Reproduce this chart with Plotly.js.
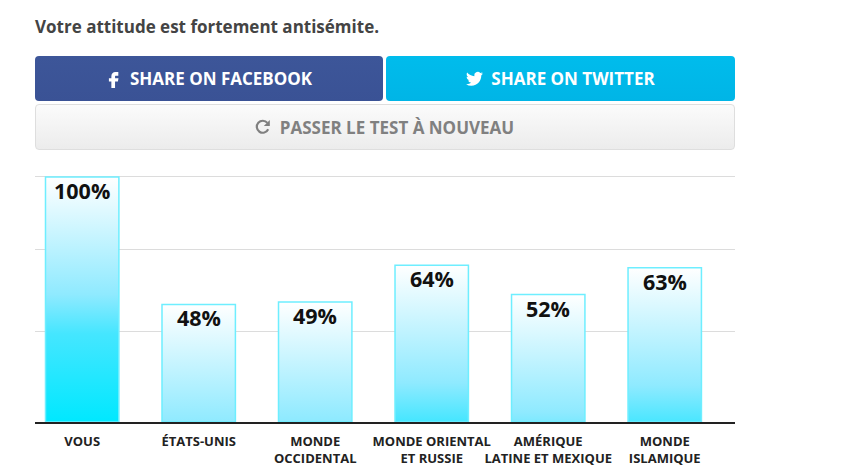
<!DOCTYPE html>
<html><head><meta charset="utf-8">
<script src="https://cdn.plot.ly/plotly-3.0.1.min.js"></script>
<style>
html,body{margin:0;padding:0;background:#fff;width:849px;height:474px;overflow:hidden;font-family:"Open Sans",sans-serif}
#chart{position:absolute;left:0;top:0;width:849px;height:474px}
h1{position:absolute;left:35px;top:16px;margin:0;font-size:17px;line-height:22px;font-weight:700;color:#444;white-space:nowrap}
.btn{position:absolute;box-sizing:border-box;border-radius:4px;display:flex;align-items:center;justify-content:center;font-weight:700;font-size:17px;white-space:nowrap}
.btn svg{margin-right:10px;display:block}
#fb{left:35px;top:56px;width:348px;height:45px;background:linear-gradient(#3d5699,#3a5295);color:#fff}
#tw{left:386px;top:56px;width:349px;height:45px;background:linear-gradient(#00bcec,#00b5e6);color:#fff}
#tw svg{margin-right:8px}
#re{left:35px;top:104px;width:700px;height:46px;background:linear-gradient(#fbfbfb,#ececec);border:1px solid #dedede;color:#808080}
#re svg{margin-right:9px;margin-left:-1px}
</style></head><body>
<div id="chart"></div>
<h1>Votre attitude est fortement antisémite.</h1>
<div class="btn" id="fb"><svg width="14" height="18" viewBox="4 2 14 22"><path fill="#fff" d="M14 9h3.5V4.5H14c-3 0-5 2-5 5V12H6v4h3v8h4.5v-8H17l.7-4h-4.2V9.7c0-.4.2-.7.5-.7z"/></svg>SHARE ON FACEBOOK</div>
<div class="btn" id="tw"><svg width="17" height="15" viewBox="0 1 24 21"><path fill="#fff" d="M23.953 4.57a10 10 0 01-2.825.775 4.958 4.958 0 002.163-2.723c-.951.555-2.005.959-3.127 1.184a4.92 4.92 0 00-8.384 4.482C7.69 8.095 4.067 6.13 1.64 3.162a4.822 4.822 0 00-.666 2.475c0 1.71.87 3.213 2.188 4.096a4.904 4.904 0 01-2.228-.616v.06a4.923 4.923 0 003.946 4.827 4.996 4.996 0 01-2.212.085 4.936 4.936 0 004.604 3.417 9.867 9.867 0 01-6.102 2.105c-.39 0-.779-.023-1.17-.067a13.995 13.995 0 007.557 2.209c9.053 0 13.998-7.496 13.998-13.985 0-.21 0-.42-.015-.63A9.935 9.935 0 0024 4.59z"/></svg>SHARE ON TWITTER</div>
<div class="btn" id="re"><svg width="16" height="16" viewBox="0 0 16 16"><path fill="none" stroke="#808080" stroke-width="2.2" d="M13.2 10.3A6 6 0 1 1 12.4 3.9"/><path fill="#808080" d="M14.8 1v6h-6z"/></svg>PASSER LE TEST À NOUVEAU</div>
<script>
const categories = ["VOUS", "ÉTATS-UNIS", "MONDE OCCIDENTAL", "MONDE ORIENTAL ET RUSSIE", "AMÉRIQUE LATINE ET MEXIQUE", "MONDE ISLAMIQUE"];
const tickLabels = ["VOUS", "ÉTATS-UNIS", "MONDE<br>OCCIDENTAL", "MONDE ORIENTAL<br>ET RUSSIE", "AMÉRIQUE<br>LATINE ET MEXIQUE", "MONDE<br>ISLAMIQUE"];
const values = [100, 48, 49, 64, 52, 63];
const gridValues = [37, 70.5, 100];
const barWidth = 0.63;
const positions = categories.map((_, i) => i);
const font = '"Open Sans", sans-serif';

// gradient fill of each bar: from pale at its top, deepening with the distance from the top
const fills = values.map((v, i) => ({
  type: 'scatter', mode: 'none', showlegend: false, hoverinfo: 'skip',
  x: [i - barWidth / 2, i - barWidth / 2, i + barWidth / 2, i + barWidth / 2, i - barWidth / 2],
  y: [0, v, v, 0, 0],
  fill: 'toself',
  fillgradient: {type: 'vertical', start: v, stop: v - 100,
    colorscale: [[0, '#ffffff'], [0.48, '#8feaff'], [0.64, '#45e6ff'], [1, '#00e8ff']]}
}));

const bars = {
  type: 'bar', x: positions, y: values, width: barWidth, xaxis: 'x2', yaxis: 'y2',
  marker: {color: 'rgba(0,0,0,0)', line: {color: '#6eeeff', width: 1.5}},
  hoverinfo: 'skip', showlegend: false
};

const barLabels = values.map((v, i) => ({
  x: i, y: v, xref: 'x2', yref: 'y2', yanchor: 'top', xanchor: 'center', showarrow: false, yshift: 3,
  text: v + '%', font: {family: font, size: 21.5, weight: 700, color: '#111'}
}));

const xRange = [-0.405, 5.603];
const yRange = [0, 100.8];
const layout = {
  width: 849, height: 474, margin: {l: 35, r: 114, t: 175, b: 52},
  paper_bgcolor: 'rgba(0,0,0,0)', plot_bgcolor: 'rgba(0,0,0,0)', showlegend: false,
  annotations: barLabels,
  xaxis: {range: xRange, tickmode: 'array', tickvals: positions, ticktext: tickLabels,
    tickfont: {family: font, size: 13, weight: 700, color: '#222'}, tickangle: 0,
    ticks: 'outside', ticklen: 6, tickcolor: 'rgba(0,0,0,0)', showgrid: false, zeroline: false,
    showline: true, linecolor: '#222', linewidth: 2},
  yaxis: {range: yRange, tickmode: 'array', tickvals: gridValues, showticklabels: false,
    ticks: '', showgrid: true, gridcolor: '#dcdcdc', gridwidth: 1, zeroline: false, showline: false},
  xaxis2: {range: xRange, overlaying: 'x', visible: false},
  yaxis2: {range: yRange, overlaying: 'y', visible: false}
};
Plotly.newPlot('chart', [...fills, bars], layout, {displayModeBar: false, staticPlot: true});
</script>
</body></html>
